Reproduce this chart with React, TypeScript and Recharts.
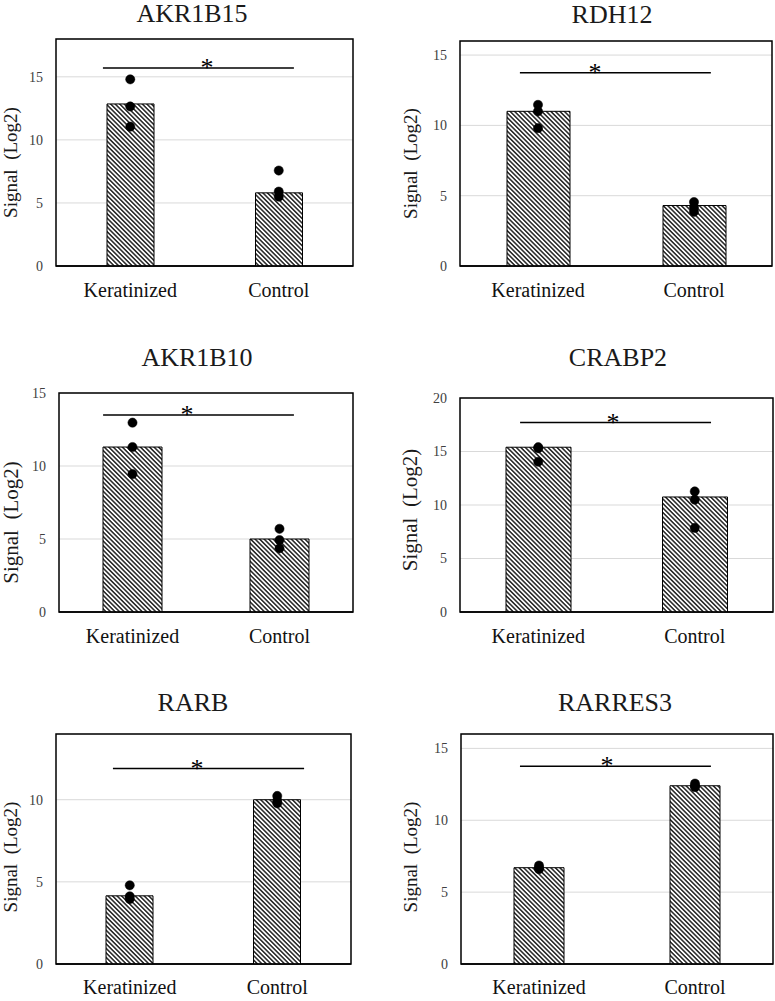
import { ComposedChart, Bar, Line, XAxis, YAxis, CartesianGrid, ReferenceLine, ReferenceArea, ReferenceDot, Label } from 'recharts'

const groups = ['Keratinized', 'Control']
const genes = ['AKR1B15', 'RDH12', 'AKR1B10', 'CRABP2', 'RARB', 'RARRES3']

// mean signal per gene: [Keratinized, Control]
const meanSignal = [[12.85, 5.8], [11.0, 4.3], [11.3, 5.0], [15.4, 10.75], [4.15, 10.0], [6.7, 12.4]]
// individual replicates
const rep1 = [[14.8, 7.57], [11.46, 4.55], [12.97, 5.7], [15.4, 11.27], [4.79, 10.23], [6.85, 12.55]]
const rep2 = [[12.65, 5.9], [11.0, 4.2], [11.3, 4.93], [15.3, 10.5], [4.12, 9.94], [6.7, 12.4]]
const rep3 = [[11.05, 5.5], [9.8, 3.85], [9.45, 4.36], [14.04, 7.86], [3.95, 9.78], [6.6, 12.3]]

const yMax = [18, 16, 15, 20, 14, 16]
const yTicks = [[0, 5, 10, 15], [0, 5, 10, 15], [0, 5, 10, 15], [0, 5, 10, 15, 20], [0, 5, 10], [0, 5, 10, 15]]

// significance bar: level, and span as fraction of plot width
const sigLevel = [15.7, 13.75, 13.5, 17.7, 11.9, 13.75]
const sigFrom = [0.158, 0.192, 0.15, 0.192, 0.193, 0.189]
const sigTo = [0.801, 0.804, 0.799, 0.802, 0.841, 0.801]
const starAt = [0.508, 0.433, 0.435, 0.489, 0.478, 0.468]

const FONT = '"Liberation Serif", "Times New Roman", serif'

// plot rects in page pixels: [left, top, right, bottom]
const layout = [
  { col: 0, colW: 385, plot: [56, 39, 353, 266], bar: 47, titleX: 192, titleBase: 23, labelX: 10, labelShift: 10, labelSize: 19, xGap: 17 },
  { col: 385, colW: 390, plot: [460, 41, 772, 266], bar: 63, titleX: 612, titleBase: 24, labelX: 25, labelShift: 10, labelSize: 19, xGap: 17 },
  { col: 0, colW: 385, plot: [59, 393, 353, 612], bar: 59, titleX: 197, titleBase: 367, labelX: 10.5, labelShift: 20, labelSize: 21, xGap: 17 },
  { col: 385, colW: 390, plot: [460, 398, 773, 612], bar: 65, titleX: 618, titleBase: 367, labelX: 25, labelShift: 5, labelSize: 21, xGap: 17 },
  { col: 0, colW: 385, plot: [56, 734, 351, 964], bar: 47, titleX: 193, titleBase: 712, labelX: 10, labelShift: 8, labelSize: 19, xGap: 16 },
  { col: 385, colW: 390, plot: [461, 734, 773, 964], bar: 50, titleX: 615, titleBase: 712, labelX: 25, labelShift: 8, labelSize: 19, xGap: 16 },
]

const XTick = (props: any) => (
  <text x={props.x} y={props.y} dy="0.71em" textAnchor="middle" fontFamily={FONT} fontSize={20} fill="#111">
    {props.payload.value}
  </text>
)

const YTick = (props: any) => (
  <text x={props.x} y={props.y} dy="0.355em" textAnchor="end" fontFamily={FONT} fontSize={14} fill="#404040">
    {props.payload.value}
  </text>
)

function Panel({ i }: { i: number }) {
  const L = layout[i]
  const [pl, pt, pr, pb] = L.plot
  const rowTop = pt - 40
  const height = pb - rowTop + 45
  const data = groups.map((g, k) => ({
    group: g,
    mean: meanSignal[i][k],
    r1: rep1[i][k],
    r2: rep2[i][k],
    r3: rep3[i][k],
  }))
  const dotStyle = { r: 4.6, fill: '#000', stroke: '#000', strokeWidth: 0.5 }

  return (
    <>
      <div
        style={{
          position: 'absolute', left: L.titleX - 120, width: 240, top: L.titleBase - 24,
          textAlign: 'center', fontFamily: FONT, fontSize: 26, lineHeight: 'normal', color: '#1a1a1a',
        }}
      >
        {genes[i]}
      </div>
      <div style={{ position: 'absolute', left: L.col, top: rowTop }}>
        <ComposedChart
          width={L.colW}
          height={height}
          data={data}
          margin={{ top: pt - rowTop, right: L.col + L.colW - pr, bottom: 25, left: 0 }}
        >
          <CartesianGrid vertical={false} stroke="#d9d9d9" strokeWidth={1} />
          <XAxis
            dataKey="group"
            height={20}
            tickLine={false}
            tickSize={0}
            tickMargin={L.xGap}
            axisLine={{ stroke: '#000', strokeWidth: 1.5 }}
            tick={<XTick />}
            interval={0}
          />
          <XAxis xAxisId="frac" type="number" domain={[0, 1]} hide />
          <YAxis
            width={pl - L.col}
            domain={[0, yMax[i]]}
            ticks={yTicks[i]}
            allowDataOverflow
            tickLine={false}
            tickSize={0}
            tickMargin={13}
            axisLine={false}
            tick={<YTick />}
          >
            <Label
              content={(p: any) => {
                const vb = p.viewBox
                const cx = vb.x + L.labelX
                const cy = vb.y + vb.height / 2 + L.labelShift
                return (
                  <text
                    x={cx} y={cy} transform={`rotate(-90, ${cx}, ${cy})`}
                    textAnchor="middle" dominantBaseline="central"
                    fontFamily={FONT} fontSize={L.labelSize} fill="#1a1a1a"
                  >
                    Signal{'\u00a0\u00a0'}(Log2)
                  </text>
                )
              }}
            />
          </YAxis>
          <Bar
            dataKey="mean"
            barSize={L.bar}
            fill="url(#hatch)"
            stroke="#000"
            strokeWidth={1}
            isAnimationActive={false}
          />
          <ReferenceArea
            xAxisId="frac" x1={0} x2={1} y1={0} y2={yMax[i]}
            fill="none" stroke="#000" strokeWidth={1.5} ifOverflow="visible"
          />
          <ReferenceLine
            xAxisId="frac"
            segment={[{ x: sigFrom[i], y: sigLevel[i] }, { x: sigTo[i], y: sigLevel[i] }]}
            stroke="#000"
            strokeWidth={1.5}
            ifOverflow="visible"
          />
          <ReferenceDot
            xAxisId="frac" x={starAt[i]} y={sigLevel[i]} r={0} fill="none" stroke="none" ifOverflow="visible"
            label={{
              content: (p: any) => {
                const vb = p.viewBox
                return (
                  <text x={vb.x + vb.width / 2} y={vb.y + vb.height / 2 + 8} textAnchor="middle"
                    fontFamily={FONT} fontSize={26} fill="#000">*</text>
                )
              },
            }}
          />
          <Line dataKey="r1" stroke="none" dot={dotStyle} activeDot={false} isAnimationActive={false} />
          <Line dataKey="r2" stroke="none" dot={dotStyle} activeDot={false} isAnimationActive={false} />
          <Line dataKey="r3" stroke="none" dot={dotStyle} activeDot={false} isAnimationActive={false} />
        </ComposedChart>
      </div>
    </>
  )
}

export default function App() {
  return (
    <div style={{ position: 'absolute', left: 0, top: 0, width: 775, height: 1001, background: '#fff', overflow: 'hidden', fontFamily: FONT }}>
      <svg width={0} height={0} style={{ position: 'absolute' }}>
        <defs>
          <pattern id="hatch" width={3.2} height={3.2} patternUnits="userSpaceOnUse" patternTransform="rotate(-45)">
            <rect width={3.2} height={3.2} fill="#fff" />
            <line x1={0.8} y1={0} x2={0.8} y2={3.2} stroke="#000" strokeWidth={1.3} />
          </pattern>
        </defs>
      </svg>
      {genes.map((_, i) => <Panel key={i} i={i} />)}
    </div>
  )
}
